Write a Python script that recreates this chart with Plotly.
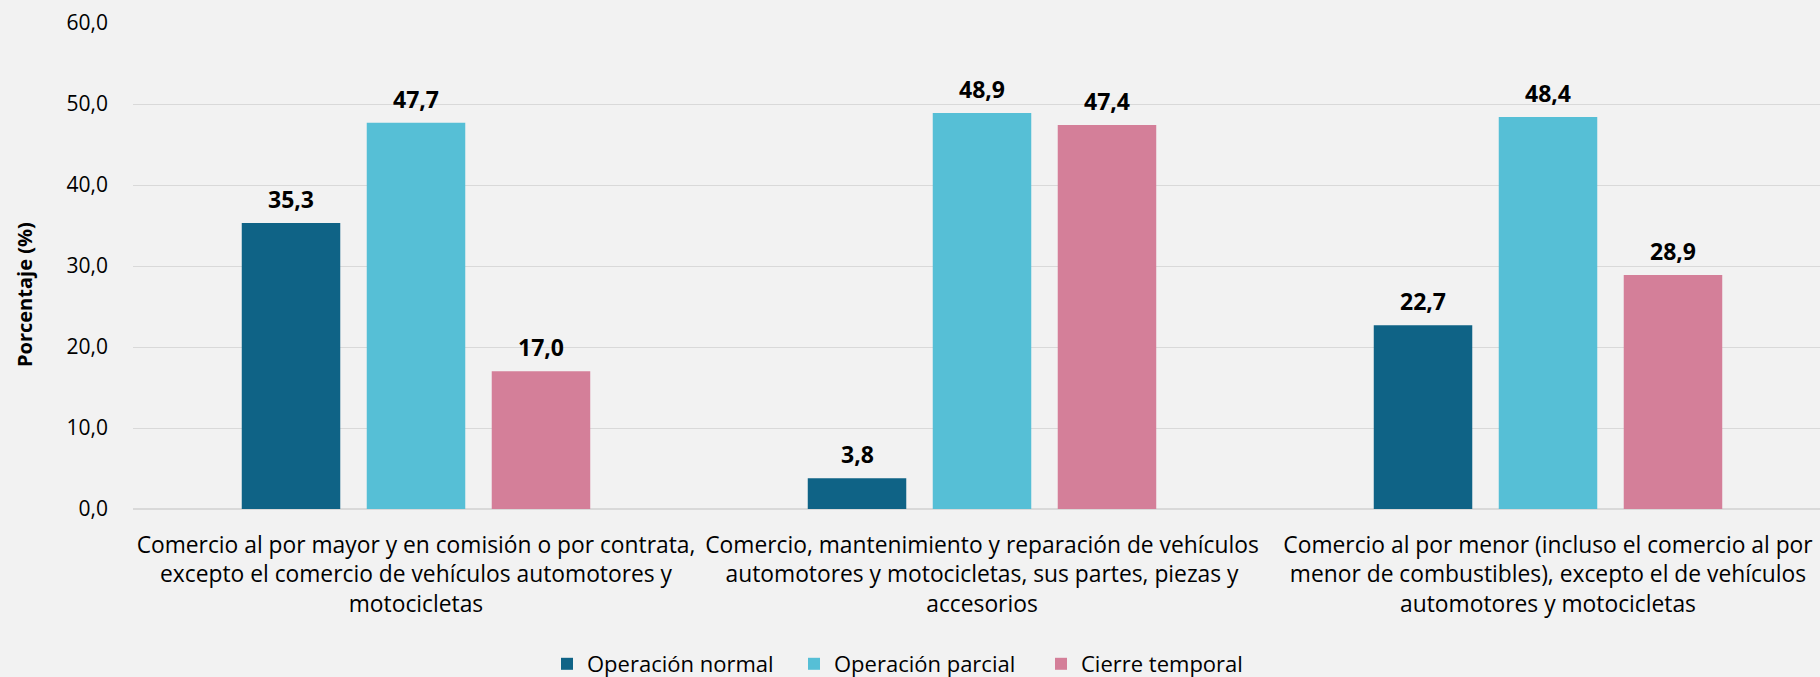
import plotly.graph_objects as go

categories = [
    "Comercio al por mayor y en comisión o por contrata,<br>excepto el comercio de vehículos automotores y<br>motocicletas",
    "Comercio, mantenimiento y reparación de vehículos<br>automotores y motocicletas, sus partes, piezas y<br>accesorios",
    "Comercio al por menor (incluso el comercio al por<br>menor de combustibles), excepto el de vehículos<br>automotores y motocicletas",
]
series_names = ["Operación normal", "Operación parcial", "Cierre temporal"]
operacion_normal = [35.3, 3.8, 22.7]
operacion_parcial = [47.7, 48.9, 48.4]
cierre_temporal = [17.0, 47.4, 28.9]
series_values = [operacion_normal, operacion_parcial, cierre_temporal]
colors = ["#0F6386", "#56BFD6", "#D47F99"]
y_tickvals = [0, 10, 20, 30, 40, 50, 60]

FONT = "Open Sans"
BARGAP = 0.3375
BARGROUPGAP = 0.212
W, H = 1820, 677
ML, MR, MT, MB = 133, 0, 23, 168

fig = go.Figure()
for name, vals, col in zip(series_names, series_values, colors):
    fig.add_trace(go.Bar(
        x=list(range(len(categories))), y=vals, name=name,
        marker=dict(color=col, line=dict(width=0)),
    ))

n = len(series_names)
slot = (1 - BARGAP) / n
for i, vals in enumerate(series_values):
    for j, v in enumerate(vals):
        fig.add_annotation(
            x=j + (i - (n - 1) / 2) * slot, y=v, xref="x", yref="y",
            text="<b>" + f"{v:.1f}".replace(".", ",") + "</b>",
            showarrow=False, yanchor="bottom", yshift=6,
            font=dict(family=FONT, size=23, color="#000000"),
        )

plot_h = H - MT - MB
fig.add_annotation(
    text="<b>Porcentaje (%)</b>", textangle=-90, showarrow=False,
    xref="paper", yref="paper", x=0, xshift=-(ML - 24), xanchor="center",
    y=(H - MB - 295) / plot_h, yanchor="middle",
    font=dict(family=FONT, size=20, color="#000000"),
)

fig.update_layout(
    width=W, height=H,
    margin=dict(l=ML, r=MR, t=MT, b=MB, pad=0),
    paper_bgcolor="#F2F2F2", plot_bgcolor="#F2F2F2",
    barmode="group", bargap=BARGAP, bargroupgap=BARGROUPGAP,
    separators=",.",
    font=dict(family=FONT, color="#000000"),
    showlegend=True,
    legend=dict(
        orientation="h", xref="container", yref="container",
        x=547 / W, xanchor="left", y=(H - 664) / H, yanchor="middle",
        font=dict(family=FONT, size=22, color="#000000"),
        itemwidth=30, entrywidth=202, entrywidthmode="pixels",
        bgcolor="rgba(0,0,0,0)", traceorder="normal",
    ),
    xaxis=dict(
        tickmode="array", tickvals=list(range(len(categories))), ticktext=categories,
        range=[-0.5, -0.5 + (W - ML - MR) / 566.0],
        showgrid=False, showline=False, zeroline=False, ticks="",
        tickfont=dict(family=FONT, size=22.8, color="#000000"),
        ticklabelstandoff=20,
    ),
    yaxis=dict(
        range=[0, 60], tickvals=y_tickvals, tickformat=".1f",
        showgrid=True, gridcolor="#D9D9D9", gridwidth=1.3,
        zeroline=True, zerolinecolor="#D9D9D9", zerolinewidth=1.5,
        showline=False, ticks="",
        tickfont=dict(family=FONT, size=21, color="#000000"),
        ticklabelstandoff=24,
    ),
)

fig.write_html(
    "out.html",
    config={"displayModeBar": False},
    post_script="document.body.style.margin='0';document.body.style.padding='0';document.body.style.overflow='hidden';",
)
